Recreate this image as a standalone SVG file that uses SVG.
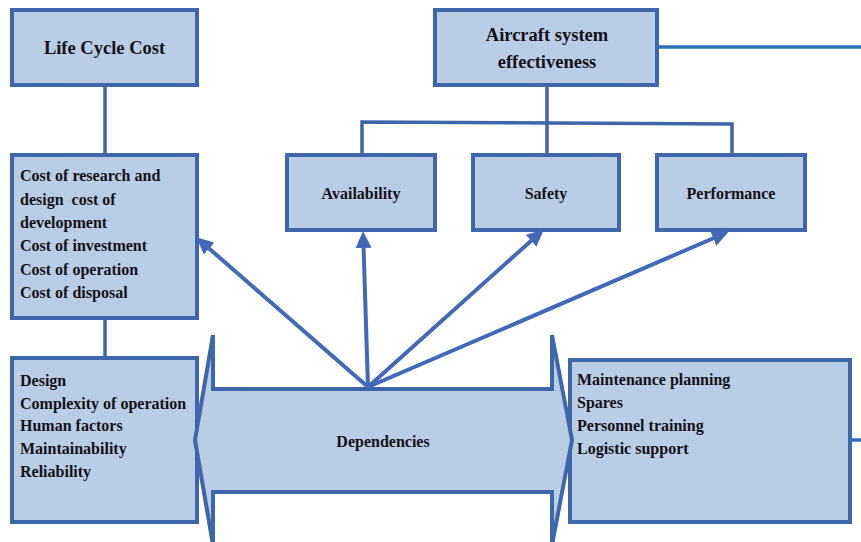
<svg xmlns="http://www.w3.org/2000/svg" width="861" height="542" viewBox="0 0 861 542">
<defs>
<style>
.box{fill:#b9cde5;stroke:#3d66ab;stroke-width:4}
text{font-family:'Liberation Serif','Times New Roman',Tinos,serif;font-weight:700;font-size:16px;fill:#111118}
text.h{font-size:18.5px}
.c{text-anchor:middle}
.ln{fill:none;stroke:#3d66ab;stroke-width:3.5}
.ar{fill:none;stroke:#4169b8;stroke-width:4}
.ext{fill:none;stroke:#2f6fb8;stroke-width:3.5}
</style>
<marker id="ah" markerUnits="userSpaceOnUse" markerWidth="18" markerHeight="16" refX="2" refY="8" orient="auto">
<path d="M0,0 L17,8 L0,16 z" fill="#4169b8"/>
</marker>
</defs>
<rect width="861" height="542" fill="#ffffff"/>
<g id="connectors">
<line class="ln" x1="105" y1="85" x2="105" y2="155"/>
<line class="ln" x1="105" y1="318" x2="105" y2="358"/>
<line class="ln" x1="547" y1="85" x2="547" y2="124"/>
<polyline class="ln" points="362,155 362,122 732,124 732,155"/>
<line class="ln" x1="547" y1="124" x2="547" y2="155"/>
<line class="ext" x1="657" y1="47" x2="861" y2="47"/>
<line class="ext" x1="850" y1="440" x2="861" y2="440"/>
</g>
<g id="life-cycle-cost">
<rect class="box" x="12" y="10" width="185" height="75"/>
<text class="h c" x="104.5" y="54">Life Cycle Cost</text>
</g>
<g id="costs">
<rect class="box" x="12" y="155" width="185" height="163"/>
<text x="20" y="181">Cost of research and</text>
<text x="20" y="204.5" xml:space="preserve" style="white-space:pre">design  cost of</text>
<text x="20" y="228">development</text>
<text x="20" y="251">Cost of investment</text>
<text x="20" y="274.5">Cost of operation</text>
<text x="20" y="297.5">Cost of disposal</text>
</g>
<g id="design-factors">
<rect class="box" x="12" y="358" width="185" height="164"/>
<text x="20" y="385.5">Design</text>
<text x="20" y="408.5">Complexity of operation</text>
<text x="20" y="431">Human factors</text>
<text x="20" y="454">Maintainability</text>
<text x="20" y="477">Reliability</text>
</g>
<g id="aircraft-system-effectiveness">
<rect class="box" x="435" y="10" width="222" height="75"/>
<text class="h c" x="547" y="41">Aircraft system</text>
<text class="h c" x="547" y="68">effectiveness</text>
</g>
<g id="availability">
<rect class="box" x="287" y="155" width="148" height="75"/>
<text class="c" x="361" y="199">Availability</text>
</g>
<g id="safety">
<rect class="box" x="473" y="155" width="146" height="75"/>
<text class="c" x="546" y="199">Safety</text>
</g>
<g id="performance">
<rect class="box" x="657" y="155" width="148" height="75"/>
<text class="c" x="731" y="199">Performance</text>
</g>
<g id="support">
<rect class="box" x="570" y="360" width="280" height="162"/>
<text x="577" y="385">Maintenance planning</text>
<text x="577" y="408">Spares</text>
<text x="577" y="431">Personnel training</text>
<text x="577" y="454">Logistic support</text>
</g>
<g id="dependencies">
<polygon class="box" points="195,440 213,335 213,389 552,389 552,335 572,440 552,545 552,492 213,492 213,545"/>
<text class="c" x="383" y="447">Dependencies</text>
</g>
<g id="arrows">
<line class="ar" x1="368" y1="387" x2="207.6" y2="247.2" marker-end="url(#ah)"/>
<line class="ar" x1="368" y1="387" x2="363.5" y2="246" marker-end="url(#ah)"/>
<line class="ar" x1="368" y1="387" x2="532.6" y2="239.4" marker-end="url(#ah)"/>
<line class="ar" x1="368" y1="387" x2="715.1" y2="237.5" marker-end="url(#ah)"/>
</g>
</svg>
